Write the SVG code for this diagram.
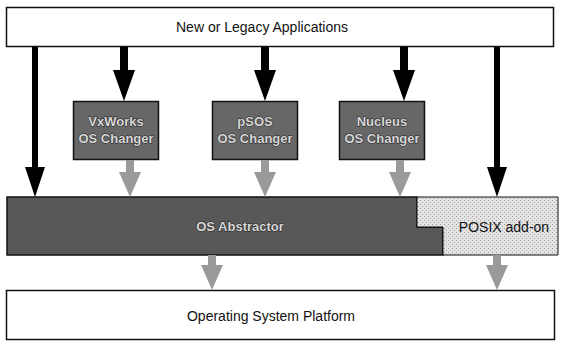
<svg xmlns="http://www.w3.org/2000/svg" width="563" height="350" viewBox="0 0 563 350">
<style>
.box{fill:#fff;stroke:#111;stroke-width:1.5}
.chg{fill:#676767;stroke:#111;stroke-width:1.5}
.lbl{font-family:"Liberation Sans",Arial,sans-serif;font-size:14px;fill:#111;text-anchor:middle}
.inv{font-family:"Liberation Sans",Arial,sans-serif;font-size:13px;fill:#d8d8d8;stroke:#1a1a1a;stroke-width:0.9;paint-order:stroke;text-anchor:middle;font-weight:bold}
.blk{fill:#000}
.gry{fill:#9a9a9a}
</style>
<defs>
<pattern id="dith" width="4" height="4" patternUnits="userSpaceOnUse">
<rect width="4" height="4" fill="#e4e4e4"/>
<rect x="0" y="0" width="1" height="1" fill="#999"/>
<rect x="2" y="2" width="1" height="1" fill="#aaa"/>
</pattern>
</defs>
<g id="apps">
<rect class="box" x="6.5" y="7.5" width="547" height="39"/>
<text class="lbl" x="262" y="32">New or Legacy Applications</text>
</g>
<g id="vxworks">
<rect class="chg" x="73.5" y="101.5" width="85" height="58"/>
<text class="inv" x="116" y="126">VxWorks</text>
<text class="inv" x="116" y="143">OS Changer</text>
</g>
<g id="psos">
<rect class="chg" x="212.5" y="101.5" width="85" height="58"/>
<text class="inv" x="255" y="126">pSOS</text>
<text class="inv" x="255" y="143">OS Changer</text>
</g>
<g id="nucleus">
<rect class="chg" x="339.5" y="101.5" width="85" height="58"/>
<text class="inv" x="382" y="126">Nucleus</text>
<text class="inv" x="382" y="143">OS Changer</text>
</g>
<g id="abstractor">
<path d="M7,197 H417 V227 H443 V255 H7 Z" fill="#585858" stroke="#111" stroke-width="1.5"/>
<text class="inv" x="240" y="231">OS Abstractor</text>
</g>
<g id="posix">
<path d="M417,197 H558 V255 H443 V227 H417 Z" fill="url(#dith)" stroke="#111" stroke-width="1"/>
<text class="lbl" x="504" y="232" font-size="15">POSIX add-on</text>
</g>
<g id="platform">
<rect class="box" x="6.5" y="290.5" width="548" height="49"/>
<text class="lbl" x="271" y="321">Operating System Platform</text>
</g>
<g id="connectors">
<path class="blk" d="M32,47 H38 V167 H45 L35,197 L25,167 H32 Z"/>
<path class="blk" d="M120,47 H128 V70 H135 L124,101 L113,70 H120 Z"/>
<path class="blk" d="M261,47 H269 V70 H276 L265,101 L254,70 H261 Z"/>
<path class="blk" d="M400,47 H408 V70 H415 L404,101 L393,70 H400 Z"/>
<path class="blk" d="M494,47 H500 V167 H507 L497,197 L487,167 H494 Z"/>
<path class="gry" d="M126,160 H134 V172 H141 L130,197 L119,172 H126 Z"/>
<path class="gry" d="M261,160 H269 V172 H276 L265,197 L254,172 H261 Z"/>
<path class="gry" d="M396,160 H404 V172 H411 L400,197 L389,172 H396 Z"/>
<path class="gry" d="M208,255 H216 V265 H223 L212,290 L201,265 H208 Z"/>
<path class="gry" d="M493,255 H501 V265 H508 L497,290 L486,265 H493 Z"/>
</g>
</svg>
